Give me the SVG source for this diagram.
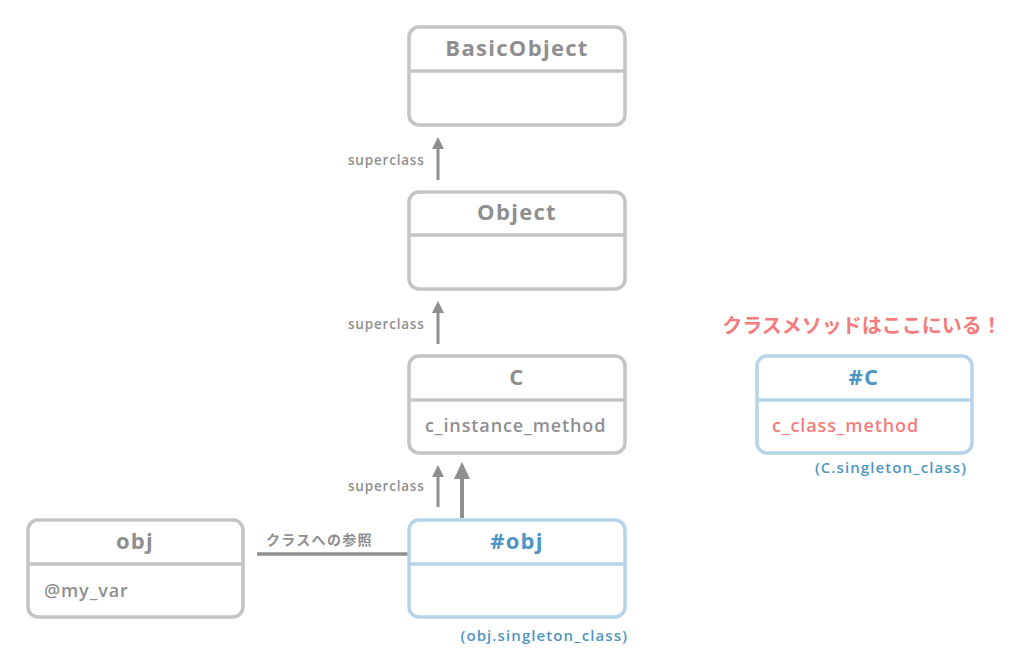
<svg xmlns="http://www.w3.org/2000/svg" width="1024" height="650" viewBox="0 0 1024 650">
<style>
.box{fill:#fff;stroke:#c4c4c4;stroke-width:3.5}
.div{stroke:#c4c4c4;stroke-width:3.5}
.bbox{fill:#fff;stroke:#b7d3e8;stroke-width:3.5}
.bdiv{stroke:#b7d3e8;stroke-width:3.5}
.t{font-family:"Open Sans","Noto Sans",sans-serif;font-weight:bold;text-anchor:middle;letter-spacing:1.3px}
.title{font-size:22px;fill:#8f8f8f}
.btitle{font-size:22px;fill:#4f95c4}
.m{font-family:"Open Sans","Noto Sans",sans-serif;font-weight:600;font-size:18px;letter-spacing:0.9px}
.lbl{font-family:"Open Sans","Noto Sans","Noto Sans CJK JP",sans-serif;font-weight:600;font-size:13.5px;fill:#8f8f8f;letter-spacing:0.8px}
.jl{font-family:"Noto Sans CJK JP",sans-serif;font-weight:bold;font-size:14px;fill:#8f8f8f;letter-spacing:1.3px}
.sg{font-family:"Open Sans","Noto Sans",sans-serif;font-weight:600;font-size:15px;fill:#4f95c4;text-anchor:end;letter-spacing:1.1px}
.conn{stroke:#8f8f8f;fill:none}
</style>
<g id="connectors">
<line class="conn" x1="438" y1="180" x2="438" y2="142" stroke-width="3"/>
<path d="M432,149 L438,137 L444,149 z" fill="#8f8f8f"/>
<line class="conn" x1="438" y1="344" x2="438" y2="306" stroke-width="3"/>
<path d="M432,313 L438,301 L444,313 z" fill="#8f8f8f"/>
<line class="conn" x1="438" y1="507" x2="438" y2="470" stroke-width="3"/>
<path d="M432,477 L438,465 L444,477 z" fill="#8f8f8f"/>
<line class="conn" x1="462" y1="518" x2="462" y2="470" stroke-width="4"/>
<path d="M454,479 L462,462 L470,479 z" fill="#8f8f8f"/>
<line class="conn" x1="257" y1="554" x2="409" y2="554" stroke-width="3.5"/>
<text class="lbl" x="348" y="165">superclass</text>
<text class="lbl" x="348" y="329">superclass</text>
<text class="lbl" x="348" y="491">superclass</text>
<text class="jl" x="266" y="545">クラスへの参照</text>
</g>
<g id="BasicObject">
<rect class="box" x="409" y="27" width="216" height="98" rx="10"/>
<line class="div" x1="409" y1="71" x2="625" y2="71"/>
<text class="t title" x="517" y="56">BasicObject</text>
</g>
<g id="Object">
<rect class="box" x="409" y="192" width="216" height="97" rx="10"/>
<line class="div" x1="409" y1="235" x2="625" y2="235"/>
<text class="t title" x="517" y="220">Object</text>
</g>
<g id="C">
<rect class="box" x="409" y="356" width="216" height="97" rx="10"/>
<line class="div" x1="409" y1="400" x2="625" y2="400"/>
<text class="t title" x="517" y="385">C</text>
<text class="m" x="425" y="432" fill="#8f8f8f">c_instance_method</text>
</g>
<g id="obj">
<rect class="box" x="28" y="520" width="215" height="97" rx="10"/>
<line class="div" x1="28" y1="564" x2="243" y2="564"/>
<text class="t title" x="135" y="549">obj</text>
<text class="m" x="44" y="597" fill="#8f8f8f" font-size="16">@my_var</text>
</g>
<g id="singleton_obj">
<rect class="bbox" x="409" y="520" width="216" height="97" rx="10"/>
<line class="bdiv" x1="409" y1="564" x2="625" y2="564"/>
<text class="t btitle" x="517" y="549">#obj</text>
<text class="sg" x="628" y="641">(obj.singleton_class)</text>
</g>
<g id="singleton_C">
<rect class="bbox" x="757" y="356" width="215" height="97" rx="10"/>
<line class="bdiv" x1="757" y1="400" x2="972" y2="400"/>
<text class="t btitle" x="864" y="385">#C</text>
<text class="m" x="772" y="432" fill="#f47c7c">c_class_method</text>
<text class="sg" x="967" y="473">(C.singleton_class)</text>
<text x="862" y="333" style="font-family:'Noto Sans CJK JP',sans-serif;font-weight:bold;font-size:20px;fill:#f47c7c;text-anchor:middle">クラスメソッドはここにいる！</text>
</g>
</svg>
